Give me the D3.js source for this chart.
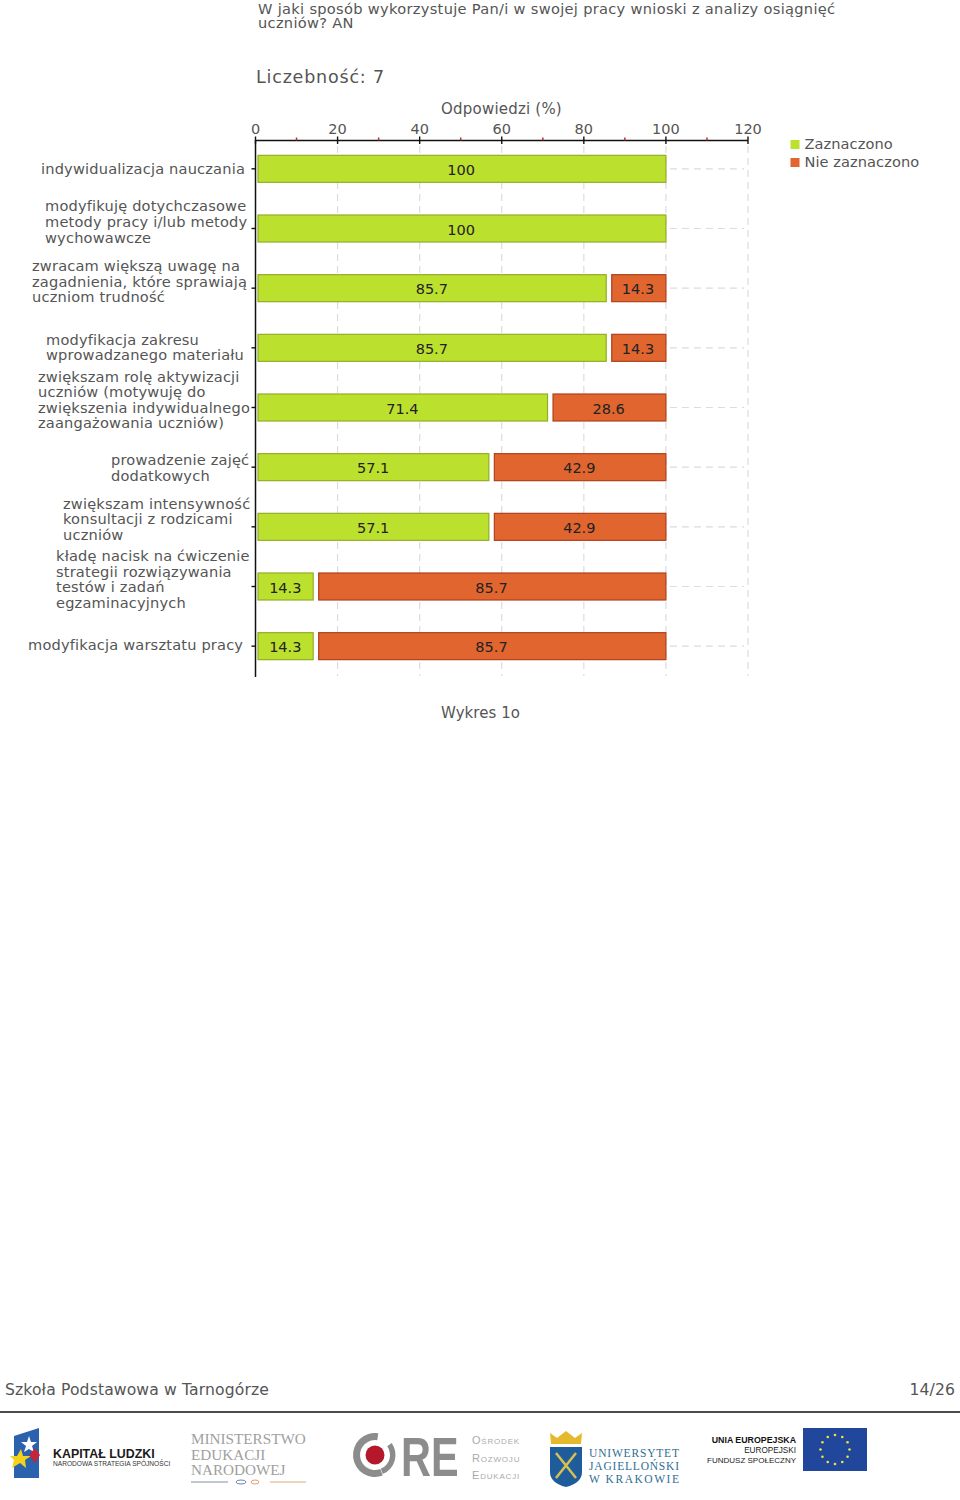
<!DOCTYPE html>
<html><head><meta charset="utf-8">
<script src="https://cdnjs.cloudflare.com/ajax/libs/d3/7.8.5/d3.min.js"></script>
<style>
html,body{margin:0;padding:0;background:#fff}
svg{display:block}
text{font-family:"DejaVu Sans",Verdana,sans-serif}
</style></head><body><div id="c"></div>
<script>
const titleLines=["W jaki sposób wykorzystuje Pan/i w swojej pracy wnioski z analizy osiągnięć","uczniów? AN"];
const countLabel="Liczebność: 7";
const axisTitle="Odpowiedzi (%)";
const caption="Wykres 1o";
const footerLeft="Szkoła Podstawowa w Tarnogórze";
const footerRight="14/26";
const seriesNames=["Zaznaczono","Nie zaznaczono"];
const categories=[
 ["indywidualizacja nauczania"],
 ["modyfikuję dotychczasowe","metody pracy i/lub metody","wychowawcze"],
 ["zwracam większą uwagę na","zagadnienia, które sprawiają","uczniom trudność"],
 ["modyfikacja zakresu","wprowadzanego materiału"],
 ["zwiększam rolę aktywizacji","uczniów (motywuję do","zwiększenia indywidualnego","zaangażowania uczniów)"],
 ["prowadzenie zajęć","dodatkowych"],
 ["zwiększam intensywność","konsultacji z rodzicami","uczniów"],
 ["kładę nacisk na ćwiczenie","strategii rozwiązywania","testów i zadań","egzaminacyjnych"],
 ["modyfikacja warsztatu pracy"]];
const zaznaczono=[100,100,85.7,85.7,71.4,57.1,57.1,14.3,14.3];
const nieZaznaczono=[0,0,14.3,14.3,28.6,42.9,42.9,85.7,85.7];
const majorTicks=[0,20,40,60,80,100,120];
const minorTicks=[10,30,50,70,90,110];
// layout only
const labelLeft=[41,45,32,46,38,111,63,56,28];
const labelShift=[0,-7,-7,-0.7,-8,0.5,-8,-7.5,-1.5];

const W=960,H=1500,GREEN="#bce02e",GREEN_D="#93ad27",OR="#e0652f",OR_D="#b0401c",TXT="#555";
const svg=d3.select("#c").append("svg").attr("width",W).attr("height",H);
const x=d3.scaleLinear().domain([0,120]).range([255.5,748]);
const y=d3.scaleBand().domain(d3.range(categories.length)).range([139,676]);
const barH=27,gap=4.5,inset=2.5;
const T=(s,px,py,fs,col,anchor)=>svg.append("text").attr("x",px).attr("y",py).attr("font-size",fs).attr("fill",col||TXT).attr("text-anchor",anchor||"start").text(s);

titleLines.forEach((l,i)=>T(l,258,13.7+i*14.5,14.6).attr("letter-spacing",0.31));
T(countLabel,256,83,17.5).attr("letter-spacing",0.8);
T(axisTitle,501.5,114,15,TXT,"middle").attr("letter-spacing",0.2);
T(caption,480.5,718,15,TXT,"middle").attr("letter-spacing",0.05);
T(footerLeft,5,1395,15.6).attr("letter-spacing",0.13);
T(footerRight,955,1395,15.6,TXT,"end").attr("letter-spacing",0.1);

// grid
const grid=svg.append("g");
grid.selectAll("line").data(majorTicks.slice(1)).join("line")
 .attr("x1",d=>x(d)).attr("x2",d=>x(d)).attr("y1",146).attr("y2",676)
 .attr("stroke","#dcdcdc").attr("stroke-width",1.2).attr("stroke-dasharray","7 5");
const rows=d3.range(categories.length);
grid.append("g").selectAll("line").data(rows).join("line")
 .attr("x1",i=>x(100)+4).attr("x2",x(120)-4)
 .attr("y1",i=>y(i)+y.bandwidth()/2).attr("y2",i=>y(i)+y.bandwidth()/2)
 .attr("stroke","#dcdcdc").attr("stroke-width",1.2).attr("stroke-dasharray","7 5");

// bars
const barG=svg.append("g");
rows.forEach(i=>{
 const cy=y(i)+y.bandwidth()/2,a=zaznaczono[i],b=nieZaznaczono[i];
 barG.append("rect").attr("x",x(0)+inset).attr("y",cy-barH/2).attr("width",x(a)-x(0)-inset-(b>0?1:0)).attr("height",barH)
  .attr("fill",GREEN).attr("stroke",GREEN_D).attr("stroke-width",1.2);
 T(a,(x(0)+inset+x(a))/2-0.8,cy+6.3,14.5,"#222","middle").attr("class","v");
 if(b>0){
  barG.append("rect").attr("x",x(a)+gap).attr("y",cy-barH/2).attr("width",x(a+b)-x(a)-gap).attr("height",barH)
   .attr("fill",OR).attr("stroke",OR_D).attr("stroke-width",1.2);
  T(b,(x(a)+gap+x(a+b))/2-0.8,cy+6.3,14.5,"#222","middle").attr("class","v");
 }
});

// axes
const topAxis=svg.append("g").attr("transform","translate(0,140.5)");
topAxis.append("line").attr("x1",x(0)).attr("x2",x(120)).attr("stroke","#111").attr("stroke-width",1.5);
topAxis.selectAll(".maj").data(majorTicks).join("line").attr("class","maj")
 .attr("x1",d=>x(d)).attr("x2",d=>x(d)).attr("y1",-4).attr("y2",3.5).attr("stroke","#111").attr("stroke-width",1.4);
topAxis.selectAll(".min").data(minorTicks).join("line").attr("class","min")
 .attr("x1",d=>x(d)).attr("x2",d=>x(d)).attr("y1",-3).attr("y2",0).attr("stroke","#b03030").attr("stroke-width",1.5);
topAxis.selectAll("text").data(majorTicks).join("text")
 .attr("x",d=>x(d)).attr("y",-6.5).attr("text-anchor","middle").attr("font-size",14.5).attr("fill",TXT).text(d=>d);
svg.append("line").attr("x1",x(0)).attr("x2",x(0)).attr("y1",140).attr("y2",677).attr("stroke","#111").attr("stroke-width",1.5);
svg.append("g").selectAll("line").data(rows).join("line")
 .attr("x1",x(0)-4).attr("x2",x(0))
 .attr("y1",i=>y(i)+y.bandwidth()/2).attr("y2",i=>y(i)+y.bandwidth()/2)
 .attr("stroke","#111").attr("stroke-width",1.4);

// category labels
rows.forEach(i=>{
 const L=categories[i],cy=y(i)+y.bandwidth()/2+labelShift[i],lh=15.6;
 L.forEach((s,k)=>T(s,labelLeft[i],cy+(k-(L.length-1)/2)*lh+5.5,14.6).attr("letter-spacing",0.18));
});

// legend
seriesNames.forEach((s,i)=>{
 svg.append("rect").attr("x",790.5).attr("y",140+i*18).attr("width",9).attr("height",9).attr("fill",i?OR:GREEN);
 T(s,804.5,148.7+i*18,14.6).attr("letter-spacing",0.06);
});

// footer rule
svg.append("line").attr("x1",0).attr("x2",W).attr("y1",1412).attr("y2",1412).attr("stroke","#111").attr("stroke-width",1.6);

// logos
const lg=svg.append("g");
lg.append("path").attr("d","M14 1436 L39 1428 L39 1478 L14 1478Z").attr("fill","#2a62ad");
lg.append("path").attr("d","M29 1436l2 6 6 0-5 4 2 6-5-3-5 3 2-6-5-4 6 0z").attr("fill","#fff");
lg.append("path").attr("d","M21 1449l2 7 8 0-6 4 1 8-6-5-8 5 2-8-4-4 7 0z").attr("fill","#f3d21c");
lg.append("path").attr("d","M35 1448l5 7-5 8-6-8z").attr("fill","#c2263a");
const tx=(s,px,py,fs,col,o={})=>{const t=T(s,px,py,fs,col,o.anchor);t.style("font-family",o.fam||"'Liberation Sans'").attr("font-weight",o.w||400);if(o.ls)t.attr("letter-spacing",o.ls);return t;};
tx("KAPITAŁ LUDZKI",53,1458,12.4,"#1a1a1a",{w:700});
tx("NARODOWA STRATEGIA SPÓJNOŚCI",53,1466,6.6,"#333");
["MINISTERSTWO","EDUKACJI","NARODOWEJ"].forEach((s,i)=>tx(s,191,1444+i*15.5,15.2,"#a0a0a0",{fam:"'Liberation Serif'"}));
lg.append("line").attr("x1",191).attr("x2",228).attr("y1",1482).attr("y2",1482).attr("stroke","#aab4c0").attr("stroke-width",1.5);
lg.append("line").attr("x1",270).attr("x2",306).attr("y1",1482).attr("y2",1482).attr("stroke","#e8c8a8").attr("stroke-width",1.5);
lg.append("ellipse").attr("cx",241).attr("cy",1482).attr("rx",5).attr("ry",2).attr("fill","none").attr("stroke","#6b84a8");
lg.append("ellipse").attr("cx",255).attr("cy",1482).attr("rx",4).attr("ry",2).attr("fill","none").attr("stroke","#e0a070");
const arc=d3.arc();
lg.append("g").attr("transform","translate(375,1455)").selectAll("path").data([[-3.5,0.15,15,22],[0.95,2.75,15,20.5]]).join("path")
 .attr("d",d=>arc({innerRadius:d[2],outerRadius:d[3],startAngle:d[0],endAngle:d[1]})).attr("fill","#8c8c8c");
lg.append("circle").attr("cx",375).attr("cy",1455).attr("r",9.5).attr("fill","#b5182a");
tx("RE",0,0,56,"#8c8c8c",{w:700}).attr("transform","translate(401,1476) scale(0.74,1)");
["Ośrodek","Rozwoju","Edukacji"].forEach((s,i)=>tx(s,472,1444+i*17.5,11,"#aaaaaa",{ls:0.8}).style("font-variant","small-caps"));
lg.append("path").attr("d","M550 1447 H582 V1472 Q582 1483 566 1487 Q550 1483 550 1472Z").attr("fill","#1f5c9c");
lg.append("path").attr("d","M556 1453 L576 1478 M576 1453 L556 1478").attr("stroke","#d8c050").attr("stroke-width",2.5);
lg.append("path").attr("d","M551 1444 L550 1433 L557 1438 L566 1431 L575 1438 L582 1433 L581 1444Z").attr("fill","#e5b92c");
["UNIWERSYTET","JAGIELLOŃSKI","W KRAKOWIE"].forEach((s,i)=>tx(s,589,1457+i*13,11.5,"#2e6d91",{fam:"'Liberation Serif'"}).attr("textLength",90).attr("lengthAdjust","spacing"));
tx("UNIA EUROPEJSKA",796,1443,8.8,"#111",{w:700,anchor:"end"});
tx("EUROPEJSKI",796,1453,8.2,"#222",{anchor:"end"});
tx("FUNDUSZ SPOŁECZNY",796,1463,8,"#222",{anchor:"end"});
lg.append("rect").attr("x",803).attr("y",1428).attr("width",64).attr("height",43).attr("fill","#20479c");
lg.append("g").selectAll("circle").data(d3.range(12)).join("circle")
 .attr("cx",i=>835+14.5*Math.cos(i*Math.PI/6)).attr("cy",i=>1449.5+14.5*Math.sin(i*Math.PI/6)).attr("r",1.3).attr("fill","#f2e23a");
</script></body></html>
